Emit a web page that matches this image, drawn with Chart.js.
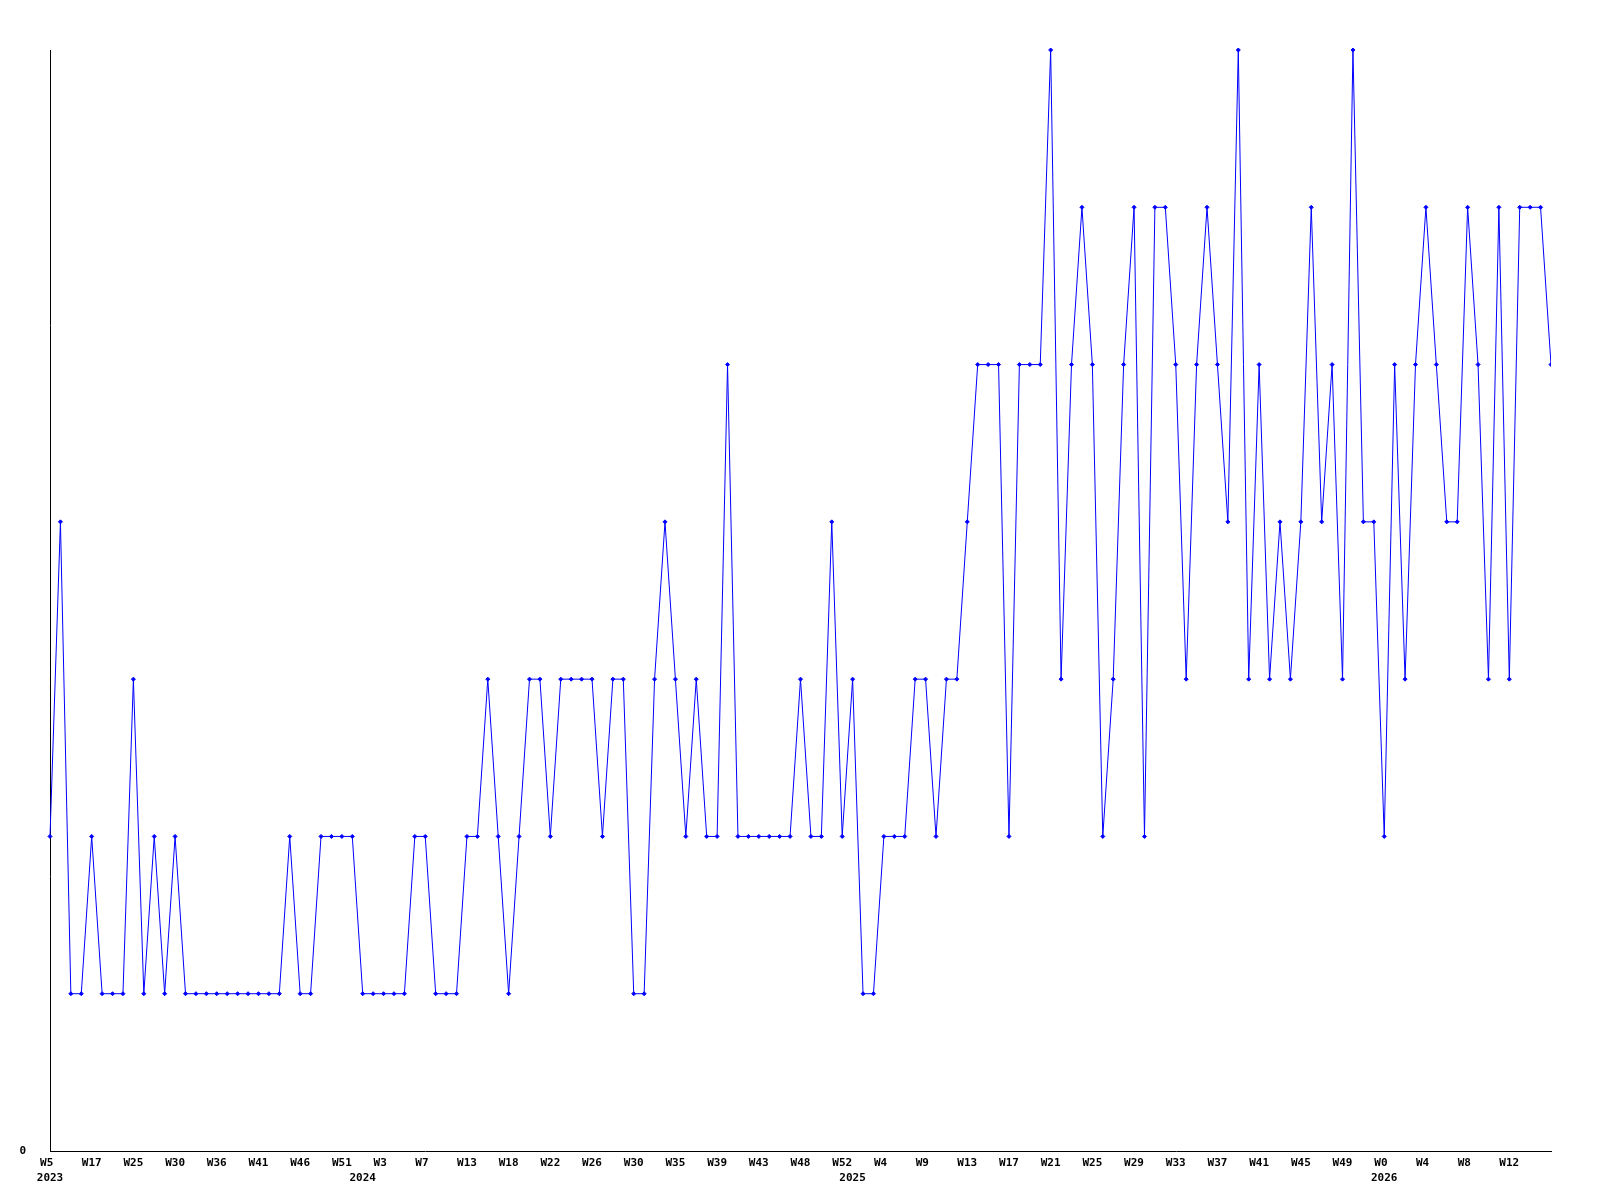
<!DOCTYPE html>
<html>
<head>
<meta charset="utf-8">
<script src="https://cdn.jsdelivr.net/npm/chart.js@4/dist/chart.umd.min.js"></script>
<style>
    html, body { margin: 0; padding: 0; background: #fff; }
    canvas { display: block; }
</style>
</head>
<body>
<canvas id="js-weekly-chart" width="1600" height="1200"></canvas>
<script>
// One value per data point (weeks that have data)
const values = [
    2, 4, 1, 1, 2, 1, 1, 1, 3, 1,
    2, 1, 2, 1, 1, 1, 1, 1, 1, 1,
    1, 1, 1, 2, 1, 1, 2, 2, 2, 2,
    1, 1, 1, 1, 1, 2, 2, 1, 1, 1,
    2, 2, 3, 2, 1, 2, 3, 3, 2, 3,
    3, 3, 3, 2, 3, 3, 1, 1, 3, 4,
    3, 2, 3, 2, 2, 5, 2, 2, 2, 2,
    2, 2, 3, 2, 2, 4, 2, 3, 1, 1,
    2, 2, 2, 3, 3, 2, 3, 3, 4, 5,
    5, 5, 2, 5, 5, 5, 7, 3, 5, 6,
    5, 2, 3, 5, 6, 2, 6, 6, 5, 3,
    5, 6, 5, 4, 7, 3, 5, 3, 4, 3,
    4, 6, 4, 5, 3, 7, 4, 4, 2, 5,
    3, 5, 6, 5, 4, 4, 6, 5, 3, 6,
    3, 6, 6, 6, 5,
];

// Week labels, shown on every 4th point
const weekLabels = [
    "W5", "W17", "W25", "W30", "W36", "W41", "W46", "W51",
    "W3", "W7", "W13", "W18", "W22", "W26", "W30", "W35", "W39", "W43", "W48", "W52",
    "W4", "W9", "W13", "W17", "W21", "W25", "W29", "W33", "W37", "W41", "W45", "W49",
    "W0", "W4", "W8", "W12",
];
const weekEvery = 4;

// Years and the first point of each year
const years = ["2023", "2024", "2025", "2026"];
const yearStarts = [0, 30, 77, 128];

const tickFont = { family: "'DejaVu Sans Mono', monospace", size: 11, weight: "bold", lineHeight: 1.36 };

function xLabel(index) {
    let week = "";
    if (index % weekEvery === 0 && weekLabels[index / weekEvery] !== undefined) {
        week = weekLabels[index / weekEvery].padEnd(3, " ");
    }
    const y = yearStarts.indexOf(index);
    if (y >= 0) {
        return [week, years[y]];
    }
    return week;
}

new Chart(document.getElementById("js-weekly-chart"), {
    type: "line",
    data: {
        labels: values.map((v, i) => i),
        datasets: [
            {
                data: values,
                borderColor: "#0000ff",
                backgroundColor: "#0000ff",
                borderWidth: 1,
                tension: 0,
                fill: false,
                pointStyle: "rectRot",
                pointRadius: 2,
                pointBorderWidth: 1,
                pointBackgroundColor: "#0000ff",
                pointBorderColor: "#0000ff",
                clip: { left: 6, top: 6, right: 0, bottom: 6 },
            },
        ],
    },
    options: {
        responsive: false,
        animation: false,
        layout: { padding: { left: 0, top: 50, right: 49, bottom: 0 } },
        plugins: {
            legend: { display: false },
            tooltip: { enabled: false },
        },
        scales: {
            x: {
                type: "category",
                offset: false,
                grid: { display: false, drawTicks: false },
                border: { display: true, color: "#000", width: 1 },
                ticks: {
                    autoSkip: false,
                    maxRotation: 0,
                    minRotation: 0,
                    padding: 5,
                    color: "#000",
                    font: tickFont,
                    callback: function (value, index) {
                        return xLabel(index);
                    },
                },
                afterFit: function (scale) {
                    scale.height = 49;
                },
            },
            y: {
                min: 0,
                max: 7,
                grid: { display: false, drawTicks: false },
                border: { display: true, color: "#000", width: 1 },
                ticks: {
                    stepSize: 1,
                    padding: 24,
                    color: "#000",
                    font: tickFont,
                    callback: function (value) {
                        return value === 0 ? "0" : "";
                    },
                },
                afterFit: function (scale) {
                    scale.width = 50;
                },
            },
        },
    },
});
</script>
</body>
</html>
